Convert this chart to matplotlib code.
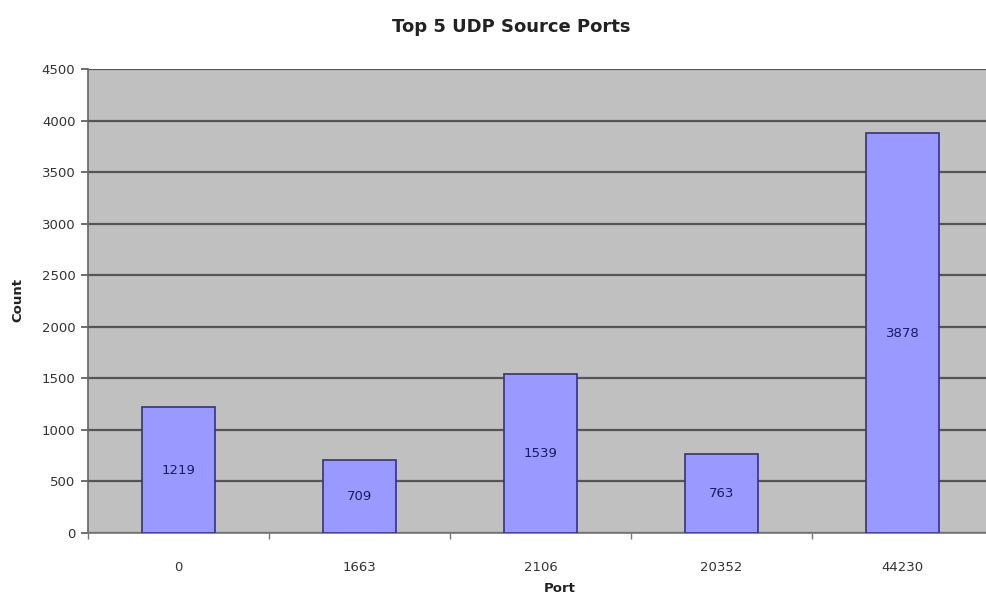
import matplotlib
matplotlib.use("Agg")
import matplotlib.pyplot as plt
import numpy as np

plt.rcParams['font.family'] = ['DejaVu Sans']

ports = ["0", "1663", "2106", "20352", "44230"]
counts = [1219, 709, 1539, 763, 3878]
y_ticks = [0, 500, 1000, 1500, 2000, 2500, 3000, 3500, 4000, 4500]

fig = plt.figure(figsize=(9.87, 5.96), dpi=100)
ax = fig.add_axes([88 / 987, 63 / 596, 905 / 987, 464 / 596])
ax.set_facecolor("#c0c0c0")

x = np.arange(len(ports))
ax.bar(x, counts, width=0.4, color="#9999ff", edgecolor="#333380",
       linewidth=1.2, zorder=3)
for xi, c in zip(x, counts):
    ax.text(xi, c / 2, str(c), ha="center", va="center", fontsize=9.5,
            color="#1a1a66", zorder=4)

ax.set_xlim(-0.5, len(ports) - 0.5)
ax.set_ylim(0, 4500)
ax.set_yticks(y_ticks)
ax.set_yticklabels([str(v) for v in y_ticks], fontsize=9.5, color="#333333")
ax.yaxis.grid(True, color="#555555", linewidth=1.6, zorder=1)
ax.set_axisbelow(True)

ax.set_xticks(x)
ax.set_xticklabels(ports, fontsize=9.5, color="#333333")
ax.tick_params(axis="x", length=0, pad=20)
ax.set_xticks(np.arange(len(ports) + 1) - 0.5, minor=True)
ax.tick_params(axis="x", which="minor", length=4, color="#777777", width=1)
ax.tick_params(axis="y", length=5, color="#555555", width=1.2, pad=4)

for s in ["top", "right"]:
    ax.spines[s].set_visible(False)
ax.spines["left"].set_color("#666666")
ax.spines["left"].set_linewidth(1.2)
ax.spines["bottom"].set_color("#777777")
ax.spines["bottom"].set_linewidth(1.2)

ax.set_xlabel("Port", fontsize=9.5, fontweight="bold", color="#222222")
ax.set_ylabel("Count", fontsize=9.5, fontweight="bold", color="#222222")
ax.yaxis.set_label_coords((18 - 88) / 905, (533 - 300) / 464)
ax.xaxis.set_label_coords((560 - 88) / 905, (533 - 588) / 464)
ax.xaxis.label.set_va("center")
ax.yaxis.label.set_va("center")

fig.text(511 / 987, 1 - 27 / 596, "Top 5 UDP Source Ports", ha="center",
         va="center", fontsize=13, fontweight="bold", color="#222222")

fig.savefig("out.png", dpi=100)
